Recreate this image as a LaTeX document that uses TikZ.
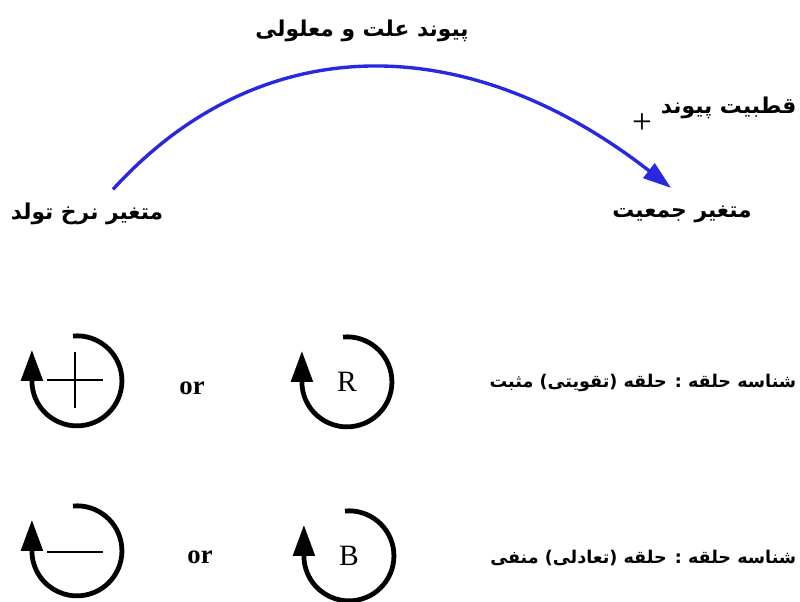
\documentclass[tikz,border=0pt]{standalone}
\usepackage{fontspec}
\setmainfont{Liberation Serif}
\newfontfamily\farsifont[Script=Arabic]{DejaVu Sans}
\TeXXeTstate=1
\usetikzlibrary{arrows.meta}
\definecolor{linkblue}{RGB}{40,40,225}

\begin{document}
\begin{tikzpicture}[x=0.025cm, y=-0.025cm,
	farsi/.style={font=\farsifont\bfseries\fontsize{15.5}{18}\selectfont, inner sep=1pt},
	looplabel/.style={font=\farsifont\bfseries\fontsize{12.5}{15}\selectfont, inner sep=1pt, anchor=east},
	causal/.style={draw=linkblue, line width=2.4pt, -{Triangle[length=20pt, width=13pt]}},
	loopline/.style={line width=3.4pt, -{Triangle[length=22pt, width=15pt]}},
	loopsign/.style={line width=1.3pt},
	signtext/.style={font=\fontsize{25}{26}\selectfont, inner sep=0pt},
	ortext/.style={font=\bfseries\fontsize{19}{22}\selectfont, inner sep=0pt},
	looptag/.style={font=\fontsize{21}{24}\selectfont, inner sep=0pt}]
	\path[use as bounding box, clip] (0,0) rectangle (800,601);
	% Variables and the causal link:
	\node[farsi] (title) at (362,31) {\beginR پیوند علت و معلولی\endR};
	\node[farsi] (birth) at (87,214) {\beginR متغیر نرخ تولد\endR};
	\node[farsi] (pop) at (682,214) {\beginR متغیر جمعیت\endR};
	\node[farsi, anchor=east] (polarity) at (798,108) {\beginR قطبیت پیوند\endR};
	\node[signtext] (sign) at (642,124) {+};
	\draw[causal] ([shift={(26,-12)}]birth.north) .. controls (260,28) and (466,28) .. ([shift={(-11,-16)}]pop.north);
	% Reinforcing loop:
	\coordinate (plusloop) at (77,381);
	\draw[loopline] ([shift={(-4,-45)}]plusloop) arc[start angle=95, end angle=-180, radius=1.125cm] -- ++(0,-31);
	\draw[loopsign] ([shift={(-30,-1)}]plusloop) -- ([shift={(26,-1)}]plusloop);
	\draw[loopsign] ([shift={(-2,-29)}]plusloop) -- ([shift={(-2,27)}]plusloop);
	\node[ortext] (orplus) at (192,388) {or};
	\node[looptag] (rtag) at (347,382) {R};
	\draw[loopline] ([shift={(-4,-45)}]rtag.center) arc[start angle=95, end angle=-180, radius=1.125cm] -- ++(0,-31);
	\node[looplabel] (reinforcing) at (798,383) {\beginR شناسه حلقه : حلقه (تقویتی) مثبت\endR};
	% Balancing loop:
	\coordinate (minusloop) at (77,551);
	\draw[loopline] ([shift={(-4,-45)}]minusloop) arc[start angle=95, end angle=-180, radius=1.125cm] -- ++(0,-31);
	\draw[loopsign] ([shift={(-30,1)}]minusloop) -- ([shift={(26,1)}]minusloop);
	\node[ortext] (orminus) at (200,557) {or};
	\node[looptag] (btag) at (349,556) {B};
	\draw[loopline] ([shift={(-4,-45)}]btag.center) arc[start angle=95, end angle=-180, radius=1.125cm] -- ++(0,-31);
	\node[looplabel] (balancing) at (798,558) {\beginR شناسه حلقه : حلقه (تعادلی) منفی\endR};
\end{tikzpicture}
\end{document}
